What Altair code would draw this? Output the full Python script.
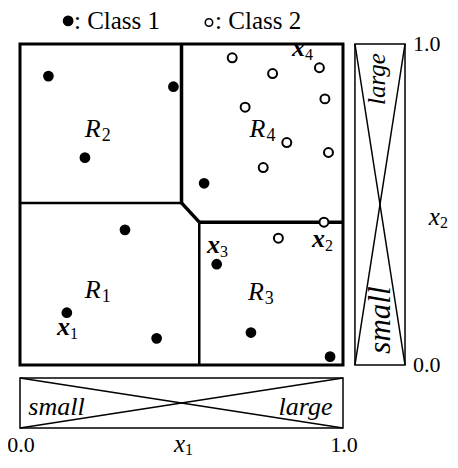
import altair as alt
import pandas as pd

# ---------------- data ----------------
class1_x1 = [0.088, 0.475, 0.201, 0.570, 0.325, 0.609, 0.145, 0.423, 0.715, 0.960]
class1_x2 = [0.900, 0.867, 0.646, 0.566, 0.421, 0.314, 0.163, 0.083, 0.101, 0.026]
class2_x1 = [0.657, 0.782, 0.927, 0.944, 0.697, 0.826, 0.955, 0.753, 0.941, 0.800]
class2_x2 = [0.957, 0.908, 0.926, 0.829, 0.803, 0.693, 0.662, 0.615, 0.445, 0.395]
class_names = ["Class 1", "Class 2"]

# decision-region boundary vertices
bx = {"A": 0.0, "B": 0.50, "C": 0.50, "D": 0.555, "E": 1.0, "F": 0.555}
by = {"A": 0.505, "B": 0.505, "C": 1.0, "D": 0.445, "E": 0.445, "F": 0.0}
thick_edges = [("B", "C"), ("B", "D"), ("D", "E")]
thin_edges = [("A", "B"), ("D", "F")]

region_ids = ["1", "2", "3", "4"]
region_x1 = [0.250, 0.250, 0.755, 0.760]
region_x2 = [0.208, 0.711, 0.202, 0.711]

sample_ids = ["1", "2", "3", "4"]
sample_lab_x1 = [0.155, 0.944, 0.619, 0.882]
sample_lab_x2 = [0.093, 0.369, 0.350, 0.963]

tick_values = [0.0, 1.0]
tick_labels = ["0.0", "1.0"]
scale_words = ["small", "large"]

# ---------------- layout ----------------
BOT_TOP, BOT_BOT = -0.0405, -0.196
RIGHT_L, RIGHT_R = 1.037, 1.192
SERIF = "Liberation Serif"

X = lambda f="x": alt.X(f"{f}:Q", scale=alt.Scale(domain=[0, 1], nice=False, zero=False), axis=None)
Y = lambda f="y": alt.Y(f"{f}:Q", scale=alt.Scale(domain=[0, 1], nice=False, zero=False), axis=None)


def edges_df(edges):
    return pd.DataFrame({
        "x": [bx[a] for a, b in edges], "y": [by[a] for a, b in edges],
        "x2": [bx[b] for a, b in edges], "y2": [by[b] for a, b in edges],
    })


frame = alt.Chart(pd.DataFrame({"x": [0.0], "x2": [1.0], "y": [0.0], "y2": [1.0]})).mark_rect(
    fill=None, stroke="black", strokeWidth=3
).encode(x=X(), x2="x2:Q", y=Y(), y2="y2:Q")

thick = alt.Chart(edges_df(thick_edges)).mark_rule(color="black", strokeWidth=3.5).encode(
    x=X(), y=Y(), x2="x2:Q", y2="y2:Q")
thin = alt.Chart(edges_df(thin_edges)).mark_rule(color="black", strokeWidth=2.5).encode(
    x=X(), y=Y(), x2="x2:Q", y2="y2:Q")

pts1 = alt.Chart(pd.DataFrame({"x": class1_x1, "y": class1_x2})).mark_point(
    filled=True, color="black", size=115, opacity=1).encode(x=X(), y=Y())
pts2 = alt.Chart(pd.DataFrame({"x": class2_x1, "y": class2_x2})).mark_point(
    filled=False, color="black", fill="white", size=80, strokeWidth=2, opacity=1).encode(x=X(), y=Y())

reg = pd.DataFrame({"x": region_x1, "y": region_x2, "t": ["R"] * 4, "s": region_ids})
reg_R = alt.Chart(reg).mark_text(font=SERIF, fontStyle="italic", fontSize=26, align="right",
                                 baseline="alphabetic").encode(x=X(), y=Y(), text="t:N")
reg_s = alt.Chart(reg).mark_text(font=SERIF, fontSize=18, align="left", baseline="alphabetic",
                                 dx=1, dy=4).encode(x=X(), y=Y(), text="s:N")

smp = pd.DataFrame({"x": sample_lab_x1, "y": sample_lab_x2, "t": ["x"] * 4, "s": sample_ids})
smp_x = alt.Chart(smp).mark_text(font=SERIF, fontStyle="italic", fontWeight="bold", fontSize=26,
                                 align="right", baseline="alphabetic").encode(x=X(), y=Y(), text="t:N")
smp_s = alt.Chart(smp).mark_text(font=SERIF, fontSize=16, align="left", baseline="alphabetic",
                                 dx=0, dy=4).encode(x=X(), y=Y(), text="s:N")

# scale bars
bars = pd.DataFrame({"x": [0.0, RIGHT_L], "x2": [1.0, RIGHT_R],
                     "y": [BOT_BOT, 0.0], "y2": [BOT_TOP, 1.0]})
bar_frames = alt.Chart(bars).mark_rect(fill=None, stroke="black", strokeWidth=1.5).encode(
    x=X(), x2="x2:Q", y=Y(), y2="y2:Q")
diag = pd.DataFrame({
    "x": [0.0, 0.0, RIGHT_L, RIGHT_R], "y": [BOT_TOP, BOT_BOT, 1.0, 1.0],
    "x2": [1.0, 1.0, RIGHT_R, RIGHT_L], "y2": [BOT_BOT, BOT_TOP, 0.0, 0.0]})
bar_diag = alt.Chart(diag).mark_rule(color="black", strokeWidth=1.5).encode(
    x=X(), y=Y(), x2="x2:Q", y2="y2:Q")

words = pd.DataFrame({"x": [0.113, 0.884, 1.144, 1.130], "y": [-0.156, -0.156, 0.140, 0.891],
                      "t": scale_words + scale_words, "a": [0, 0, 270, 270],
                      "fs": [26, 26, 31, 25]})
word_txt = alt.Chart(words).mark_text(font=SERIF, fontStyle="italic", align="center",
                                      baseline="alphabetic").encode(
    x=X(), y=Y(), text="t:N", angle=alt.Angle("a:Q", scale=None),
    size=alt.Size("fs:Q", scale=None))

ticks_b = pd.DataFrame({"x": tick_values, "y": [-0.249] * 2, "t": tick_labels})
tick_b = alt.Chart(ticks_b).mark_text(font=SERIF, fontSize=22, align="center", baseline="middle",
                                      dx=1).encode(x=X(), y=Y(), text="t:N")
ticks_r = pd.DataFrame({"x": [1.217] * 2, "y": tick_values, "t": tick_labels})
tick_r = alt.Chart(ticks_r).mark_text(font=SERIF, fontSize=22, align="left", baseline="middle").encode(
    x=X(), y=Y(), text="t:N")

titles = pd.DataFrame({"x": [0.511, 1.300], "y": [-0.272, 0.436], "t": ["x", "x"], "s": ["1", "2"]})
title_x = alt.Chart(titles).mark_text(font=SERIF, fontStyle="italic", fontSize=25, align="right",
                                      baseline="alphabetic").encode(x=X(), y=Y(), text="t:N")
title_s = alt.Chart(titles).mark_text(font=SERIF, fontSize=16, align="left", baseline="alphabetic",
                                      dy=3).encode(x=X(), y=Y(), text="s:N")

leg = pd.DataFrame({"x": [0.149, 0.585], "y": [1.072, 1.067], "tx": [0.167, 0.604],
                    "ty": [1.047, 1.047], "t": [": " + c for c in class_names]})
leg_fill = alt.Chart(leg.iloc[[0]]).mark_point(filled=True, color="black", size=115, opacity=1).encode(
    x=X(), y=Y())
leg_open = alt.Chart(leg.iloc[[1]]).mark_point(filled=False, color="black", size=55, strokeWidth=1.6,
                                               opacity=1).encode(x=X(), y=Y())
leg_txt = alt.Chart(leg).mark_text(font=SERIF, fontSize=25, align="left", baseline="alphabetic").encode(
    x=X("tx"), y=Y("ty"), text="t:N")

chart = alt.layer(
    thin, thick, frame, pts1, pts2, reg_R, reg_s, smp_x, smp_s,
    bar_frames, bar_diag, word_txt, tick_b, tick_r, title_x, title_s,
    leg_fill, leg_open, leg_txt,
).properties(
    width=323, height=321,
    padding={"left": 12, "top": 36, "right": 107, "bottom": 95},
    autosize=alt.AutoSizeParams(type="none"),
).configure_view(stroke=None)

chart.save("out.html", embed_options={"renderer": "svg", "actions": False})
